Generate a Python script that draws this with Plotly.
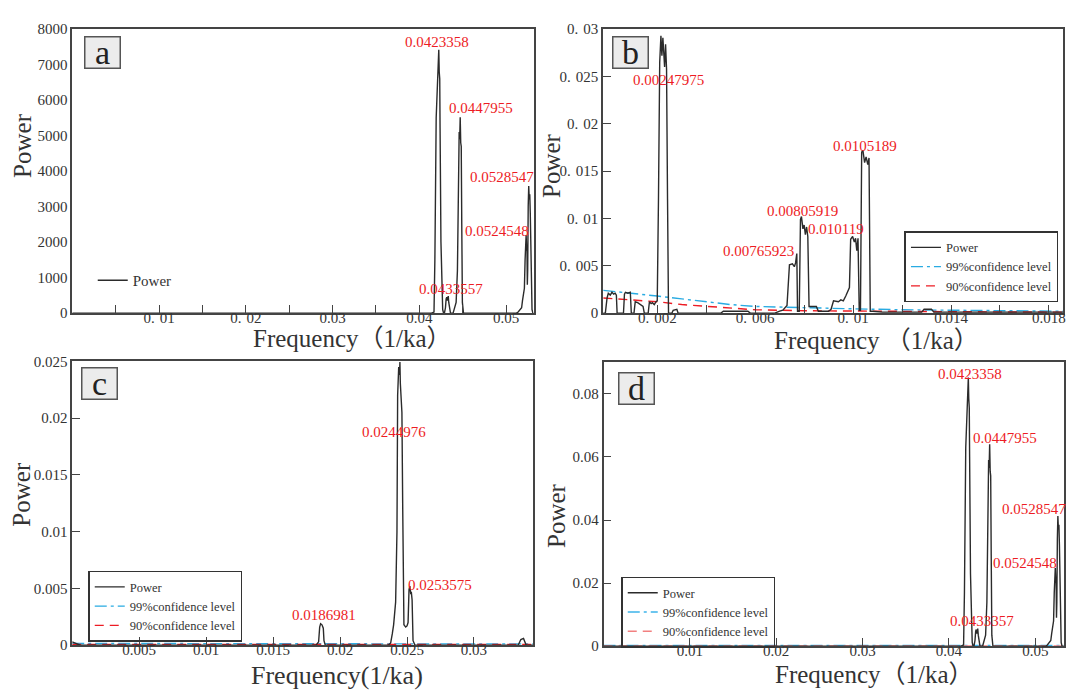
import plotly.graph_objects as go

# ------------------------------------------------------------------ data
# Panel a : power spectrum (Power)
A_FREQ = [0, 0.0414, 0.0417, 0.0418, 0.04195, 0.0421, 0.04218, 0.04225, 0.0423, 0.04236, 0.0424, 0.0425, 0.0427, 0.0428,
          0.0429, 0.04302, 0.0431, 0.04317, 0.04323, 0.04328, 0.04334, 0.0434, 0.0435, 0.0436,
          0.0439, 0.0440, 0.04425, 0.0444, 0.04452, 0.0446, 0.04466, 0.04472, 0.04478, 0.04484, 0.0449, 0.04497, 0.0451,
          0.0512, 0.0514, 0.0518, 0.0519, 0.05212, 0.0522, 0.05228, 0.05232, 0.05238, 0.05242, 0.05246, 0.0525,
          0.05256, 0.05262, 0.05268, 0.05274, 0.0528, 0.0529, 0.0530, 0.0531, 0.0532]
A_POWER = [0, 0, 30, 1500, 5500, 6700, 6800, 7420, 6800, 6600, 5200, 2000, 100, 0,
           0, 150, 400, 450, 350, 400, 480, 300, 50, 0,
           0, 100, 300, 1200, 4900, 5100, 4900, 5520, 4800, 4700, 2500, 300, 0,
           0, 30, 150, 350, 700, 1500, 2100, 2200, 1800, 1750, 800, 1200,
           3000, 3580, 3200, 3350, 2800, 1000, 100, 0, 0]

# Panel b : power + confidence levels
B_FREQ = [-0.0002, -0.00012, -0.00005, 0.0, 0.00008, 0.00015, 0.00022, 0.00028, 0.00033, 0.00036,
          0.00062, 0.00066, 0.0007, 0.0008, 0.0009, 0.00094,
          0.00105, 0.0011, 0.0012, 0.0013, 0.00142, 0.00147,
          0.00163, 0.00168, 0.00175, 0.0018, 0.00188, 0.00195, 0.0020,
          0.00205, 0.0021, 0.00215, 0.00219, 0.00223, 0.00227, 0.0023, 0.00234, 0.00238, 0.00242, 0.00246,
          0.0026, 0.00265, 0.0028, 0.00285,
          0.0046, 0.0047, 0.0052, 0.0057, 0.0058,
          0.0068, 0.0070, 0.00713, 0.0073, 0.0074, 0.00752, 0.0076, 0.00765, 0.0077, 0.00773,
          0.0078, 0.00785, 0.00789, 0.00795, 0.0080, 0.00805, 0.0081, 0.00815, 0.0082, 0.0085, 0.00858,
          0.0090, 0.0091, 0.0092, 0.0094, 0.0095, 0.0096, 0.0097, 0.00985,
          0.0099, 0.00998, 0.01005, 0.0101, 0.01015, 0.0102, 0.01025,
          0.0103, 0.01035, 0.0104, 0.01047, 0.01053, 0.0106, 0.01065, 0.0107,
          0.0108, 0.0112, 0.0128, 0.0129, 0.0132, 0.0133, 0.0186]
B_POWER = [0, 0, 0.0016, 0.0021, 0.0019, 0.0022, 0.0020, 0.0021, 0.0019, 0.0,
           0.0, 0.0020, 0.0022, 0.0021, 0.0022, 0.0,
           0.0, 0.0012, 0.0011, 0.0009, 0.0007, 0.0,
           0.0, 0.0012, 0.0010, 0.0011, 0.0009, 0.0012, 0.0013,
           0.012, 0.0265, 0.0293, 0.0272, 0.0291, 0.0265, 0.0260, 0.0284, 0.0258, 0.012, 0.0,
           0.0, 0.0003, 0.0004, 0.0,
           0, 0.0002, 0.0002, 0.0002, 0,
           0, 0.0002, 0.0003, 0.0008, 0.0051, 0.0052, 0.0049, 0.0053, 0.0063, 0.0002,
           0.0002, 0.0099, 0.0102, 0.0089, 0.0093, 0.0083, 0.0091, 0.0081, 0.0007, 0.0007, 0.0002,
           0.0002, 0.0004, 0.0013, 0.0012, 0.0014, 0.0013, 0.0018, 0.0027,
           0.0078, 0.0081, 0.0075, 0.0079, 0.0066, 0.0079, 0.0003,
           0.0003, 0.0170, 0.0172, 0.0159, 0.0165, 0.0157, 0.0164, 0.0002,
           0.0002, 0.0001, 0.0001, 0.0004, 0.0004, 0.0001, 0.0001]
B_CI_FREQ = [-0.0002, 0.001, 0.002, 0.003, 0.004, 0.005, 0.006, 0.008, 0.010, 0.012, 0.014, 0.016, 0.0186]
B_CI99 = [0.0024, 0.0021, 0.0018, 0.0015, 0.0012, 0.0009, 0.0007, 0.00055, 0.00045, 0.00035, 0.0003, 0.00025, 0.0002]
B_CI90 = [0.0016, 0.0014, 0.0012, 0.0009, 0.0007, 0.0005, 0.00035, 0.00025, 0.0002, 0.00017, 0.00015, 0.00012, 0.0001]

# Panel c : power + confidence levels
C_FREQ = [0, 0.0002, 0.0004, 0.0006,
          0.0182, 0.0184, 0.01848, 0.01855, 0.01865, 0.01875, 0.0188, 0.0189,
          0.0236, 0.02378, 0.0239, 0.0240, 0.02415, 0.02425, 0.0243, 0.02438, 0.02444, 0.02447, 0.0245,
          0.02456, 0.02462, 0.02468, 0.02477, 0.0249, 0.0250, 0.02508, 0.02515, 0.02522, 0.02528, 0.02532,
          0.02538, 0.02545, 0.0256,
          0.0333, 0.0335, 0.0337, 0.0338, 0.0339, 0.0344]
C_POWER = [0.0003, 0.0002, 0.00005, 0,
           0, 0.0003, 0.0016, 0.0019, 0.0018, 0.0015, 0.0004, 0,
           0, 0.0002, 0.0010, 0.0018, 0.0038, 0.010, 0.022, 0.0245, 0.0238, 0.02495, 0.0231,
           0.0222, 0.0205, 0.012, 0.0018, 0.0016, 0.0017, 0.0020, 0.0049, 0.0052, 0.0045, 0.0047,
           0.0040, 0.0004, 0,
           0, 0.0005, 0.0006, 0.0002, 0, 0]
C_CI_FREQ = [0, 0.005, 0.015, 0.025, 0.0344]
C_CI99 = [0.00016, 0.00014, 0.00013, 0.00012, 0.00012]
C_CI90 = [0.00008, 0.00007, 0.00006, 0.00006, 0.00006]

# Panel d : power + confidence levels
D_FREQ = [0, 0.0414, 0.0417, 0.0418, 0.04195, 0.0421, 0.04218, 0.04225, 0.0423, 0.04236, 0.0424, 0.0425, 0.0427, 0.0428,
          0.0429, 0.04302, 0.0431, 0.04317, 0.04323, 0.04328, 0.04334, 0.0434, 0.0435, 0.0436,
          0.0439, 0.0440, 0.04425, 0.0444, 0.04452, 0.0446, 0.04466, 0.04472, 0.04478, 0.04484, 0.0449, 0.04497, 0.0451,
          0.0512, 0.0514, 0.0518, 0.0519, 0.05212, 0.0522, 0.05228, 0.05232, 0.05238, 0.05242, 0.05246, 0.0525,
          0.05256, 0.05262, 0.05268, 0.05274, 0.0528, 0.0529, 0.0530, 0.0531, 0.0533]
D_POWER = [0, 0, 0.0004, 0.017, 0.063, 0.0775, 0.079, 0.0852, 0.0785, 0.0755, 0.060, 0.023, 0.0012, 0,
           0, 0.0018, 0.0048, 0.0053, 0.0040, 0.0046, 0.0056, 0.0035, 0.0006, 0,
           0, 0.0012, 0.0035, 0.014, 0.0565, 0.059, 0.0565, 0.064, 0.0555, 0.054, 0.029, 0.0035, 0,
           0, 0.0004, 0.0018, 0.004, 0.008, 0.017, 0.0235, 0.0248, 0.0205, 0.020, 0.009, 0.014,
           0.034, 0.0413, 0.037, 0.0385, 0.032, 0.0115, 0.0012, 0, 0]
D_CI_FREQ = [0, 0.01, 0.02, 0.03, 0.04, 0.05, 0.0533]
D_CI99 = [0.00025, 0.00025, 0.00025, 0.00025, 0.00025, 0.00025, 0.00025]
D_CI90 = [0.0001, 0.0001, 0.0001, 0.0001, 0.0001, 0.0001, 0.0001]

SERIES_NAMES = ["Power", "99%confidence level", "90%confidence level"]

SP = "\u2004"  # wide gap after the decimal point in some tick labels
# tick values / labels
A_XTICKS = [0.005, 0.01, 0.015, 0.02, 0.025, 0.03, 0.035, 0.04, 0.045, 0.05]
A_XTEXT = ["", "0." + SP + "01", "", "0." + SP + "02", "", "0.03", "", "0.04", "", "0.05"]
A_YTICKS = [0, 1000, 2000, 3000, 4000, 5000, 6000, 7000, 8000]
A_YTEXT = ["0", "1000", "2000", "3000", "4000", "5000", "6000", "7000", "8000"]

B_XTICKS = [0.002, 0.004, 0.006, 0.008, 0.010, 0.012, 0.014, 0.016, 0.018]
B_XTEXT = ["0." + SP + "002", "", "0." + SP + "006", "", "0." + SP + "01", "", "0.014", "", "0.018"]
B_YTICKS = [0, 0.005, 0.01, 0.015, 0.02, 0.025, 0.03]
B_YTEXT = ["0", "0." + SP + "005", "0." + SP + "01", "0." + SP + "015", "0." + SP + "02",
           "0." + SP + "025", "0." + SP + "03"]

C_XTICKS = [0.005, 0.01, 0.015, 0.02, 0.025, 0.03]
C_XTEXT = ["0.005", "0.01", "0.015", "0.02", "0.025", "0.03"]
C_YTICKS = [0, 0.005, 0.01, 0.015, 0.02, 0.025]
C_YTEXT = ["0", "0.005", "0.01", "0.015", "0.02", "0.025"]

D_XTICKS = [0.01, 0.02, 0.03, 0.04, 0.05]
D_XTEXT = ["0.01", "0.02", "0.03", "0.04", "0.05"]
D_YTICKS = [0, 0.02, 0.04, 0.06, 0.08]
D_YTEXT = ["0", "0.02", "0.04", "0.06", "0.08"]

A_PEAKS = ["0.0423358", "0.0447955", "0.0528547", "0.0524548", "0.0433557"]
B_PEAKS = ["0.00247975", "0.0105189", "0.00805919", "0.010119", "0.00765923"]
C_PEAKS = ["0.0244976", "0.0253575", "0.0186981"]
D_PEAKS = ["0.0423358", "0.0447955", "0.0528547", "0.0524548", "0.0433357"]

# ------------------------------------------------------------------ style
SERIF = "Liberation Serif, Times New Roman, serif"
TITLE_FONT = "Liberation Serif, Noto Sans CJK SC, serif"
LINE_DARK = "#2b2b2b"
AXIS_COL = "#444444"
TICK_COL = "#333333"
RED = "#ed1c24"
BLUE = "#29abe2"

fig = go.Figure()

def power_trace(x, y, ax, leg):
    return go.Scatter(x=x, y=y, mode="lines", name=SERIES_NAMES[0], legendrank=1,
                      line=dict(color=LINE_DARK, width=1.4), xaxis=ax[0], yaxis=ax[1],
                      legend=leg, showlegend=True, hoverinfo="skip")

def ci_trace(x, y, ax, leg, which, color, dash):
    return go.Scatter(x=x, y=y, mode="lines", name=SERIES_NAMES[which], legendrank=1 + which,
                      line=dict(color=color, width=1.4, dash=dash), xaxis=ax[0], yaxis=ax[1],
                      legend=leg, showlegend=True, hoverinfo="skip")

DASHDOT = "12px,4px,3px,4px"
DASHED = "9px,6px"

# panel a
fig.add_trace(power_trace(A_FREQ, A_POWER, ("x", "y"), "legend"))
# panel b
fig.add_trace(ci_trace(B_CI_FREQ, B_CI99, ("x2", "y2"), "legend2", 1, BLUE, DASHDOT))
fig.add_trace(ci_trace(B_CI_FREQ, B_CI90, ("x2", "y2"), "legend2", 2, RED, DASHED))
fig.add_trace(power_trace(B_FREQ, B_POWER, ("x2", "y2"), "legend2"))
# panel c
fig.add_trace(ci_trace(C_CI_FREQ, C_CI99, ("x3", "y3"), "legend3", 1, BLUE, DASHDOT))
fig.add_trace(ci_trace(C_CI_FREQ, C_CI90, ("x3", "y3"), "legend3", 2, RED, DASHED))
fig.add_trace(power_trace(C_FREQ, C_POWER, ("x3", "y3"), "legend3"))
# panel d
fig.add_trace(ci_trace(D_CI_FREQ, D_CI99, ("x4", "y4"), "legend4", 1, "#3db4ea", DASHDOT))
fig.add_trace(ci_trace(D_CI_FREQ, D_CI90, ("x4", "y4"), "legend4", 2, "#f28080", DASHED))
fig.add_trace(power_trace(D_FREQ, D_POWER, ("x4", "y4"), "legend4"))

W, H = 1070, 693

def px_x(p):
    return p / W

def px_y(p):
    return 1 - p / H

TICKFONT = dict(family=SERIF, size=15, color=TICK_COL)

def xaxis(l, r, rng, tv, tt, anchor):
    return dict(domain=[px_x(l), px_x(r)], range=rng, anchor=anchor,
                showline=True, linecolor=AXIS_COL, linewidth=1.6, mirror=True,
                ticks="inside", ticklen=8, tickwidth=1.2, tickcolor=AXIS_COL,
                tickmode="array", tickvals=tv, ticktext=tt, ticklabelstandoff=-10,
                tickfont=TICKFONT, showgrid=False, zeroline=False, layer="above traces")

def yaxis(top, bot, rng, tv, tt, anchor, ticks="inside"):
    return dict(domain=[px_y(bot), px_y(top)], range=rng, anchor=anchor,
                showline=True, linecolor=AXIS_COL, linewidth=1.6, mirror=True,
                ticks=ticks, ticklen=8, tickwidth=1.2, tickcolor=AXIS_COL,
                tickmode="array", tickvals=tv, ticktext=tt,
                tickfont=TICKFONT, showgrid=False, zeroline=False, layer="above traces")

leg_font = dict(family=SERIF, size=12.5, color="#333")
CLEAR = "rgba(255,255,255,0)"

fig.update_layout(
    width=W, height=H, margin=dict(l=0, r=0, t=0, b=0),
    paper_bgcolor="white", plot_bgcolor="white", showlegend=True,
    xaxis=xaxis(72.5, 535, [0, 0.05317], A_XTICKS, A_XTEXT, "y"),
    yaxis=yaxis(21.7, 312.3, [0, 8000], A_YTICKS, A_YTEXT, "x", ticks=""),
    xaxis2=xaxis(604.7, 1066, [-0.000216, 0.018574], B_XTICKS, B_XTEXT, "y2"),
    yaxis2=yaxis(21.7, 312.3, [0, 0.03], B_YTICKS, B_YTEXT, "x2"),
    xaxis3=xaxis(72.4, 534.8, [0, 0.03443], C_XTICKS, C_XTEXT, "y3"),
    yaxis3=yaxis(361.7, 652.3, [0, 0.025], C_YTICKS, C_YTEXT, "x3"),
    xaxis4=xaxis(605.2, 1067, [0, 0.05333], D_XTICKS, D_XTEXT, "y4"),
    yaxis4=yaxis(362.7, 653.3, [0, 0.09], D_YTICKS, D_YTEXT, "x4"),
    legend=dict(x=px_x(93), y=px_y(262), xanchor="left", yanchor="top",
                bgcolor=CLEAR, borderwidth=0, visible=True,
                font=dict(family=SERIF, size=15, color="#333")),
    legend2=dict(x=px_x(907), y=px_y(228.5), xanchor="left", yanchor="top",
                 bgcolor="white", bordercolor="#333", borderwidth=1.5, font=leg_font),
    legend3=dict(x=px_x(88.5), y=px_y(576), xanchor="left", yanchor="top",
                 bgcolor=CLEAR, bordercolor="#333", borderwidth=1.5, font=leg_font),
    legend4=dict(x=px_x(623), y=px_y(582), xanchor="left", yanchor="top",
                 bgcolor=CLEAR, bordercolor="#333", borderwidth=1.5, font=leg_font),
)

ann = []

# peak labels (data coordinates)
def peak_labels(texts, xs, ys, xr, yr):
    for t, x, y in zip(texts, xs, ys):
        ann.append(dict(text=t, x=x, y=y, xref=xr, yref=yr, showarrow=False,
                        xanchor="center", yanchor="middle",
                        font=dict(family=SERIF, size=15, color=RED)))

peak_labels(A_PEAKS, [0.04204, 0.0471, 0.04949, 0.04897, 0.04362],
            [7634, 5770, 3827, 2302, 688], "x", "y")
peak_labels(B_PEAKS, [0.002477, 0.010468, 0.007927, 0.009316, 0.006147],
            [0.0246, 0.01761, 0.01084, 0.00884, 0.00661], "x2", "y2")
peak_labels(C_PEAKS, [0.024006, 0.027483, 0.018838],
            [0.018755, 0.0053, 0.00269], "x3", "y3")
peak_labels(D_PEAKS, [0.042413, 0.04649, 0.04986, 0.04886, 0.04388],
            [0.08619, 0.06606, 0.04354, 0.02632, 0.00805], "x4", "y4")

# panel letters
for letter, cx, cy, ys in [("a", 102.3, 48.3, 3), ("b", 632.1, 45.7, 0),
                           ("c", 100.2, 387.5, 3), ("d", 637.8, 389, 0)]:
    ann.append(dict(text=letter, x=px_x(cx), y=px_y(cy), xref="paper", yref="paper",
                    showarrow=False, xanchor="center", yanchor="middle",
                    width=34, height=30, borderpad=0, borderwidth=1.5,
                    bordercolor="#555", bgcolor="#ececec", yshift=ys,
                    font=dict(family=SERIF, size=34, color="#222")))

# axis titles
for cx, cy in [(23.2, 141), (553.2, 161), (20.7, 497.5), (558.6, 520)]:
    ann.append(dict(text="Power", x=px_x(cx), y=px_y(cy), xref="paper", yref="paper",
                    showarrow=False, textangle=-90, xanchor="center", yanchor="middle",
                    font=dict(family=SERIF, size=25, color="#333")))

for txt, cx, cy, fs in [("Frequency（1/ka）", 353.5, 338, 25),
                        ("Frequency （1/ka）", 879, 340, 25),
                        ("Frequency(1/ka)", 337.5, 683, 26),
                        ("Frequency（1/ka）", 877, 682, 25)]:
    ann.append(dict(text=txt, x=px_x(cx), y=px_y(cy), xref="paper", yref="paper",
                    showarrow=False, xanchor="center", yanchor="middle",
                    font=dict(family=TITLE_FONT, size=fs, color="#333")))

fig.update_layout(annotations=ann)

fig.write_html("out.html")
